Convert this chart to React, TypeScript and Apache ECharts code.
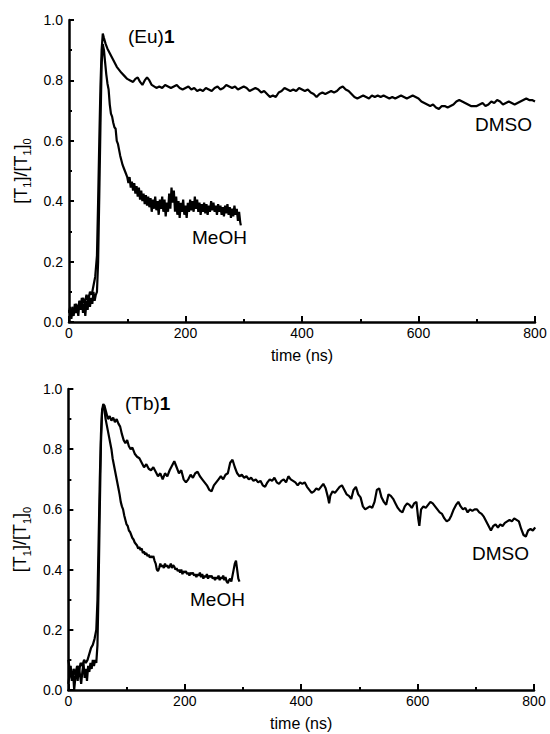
import React, { useEffect, useRef } from "react";
import * as echarts from "echarts";

// Time axis ticks (ns) and ratio axis ticks
const timeTicks = [0, 200, 400, 600, 800];
const ratioTicks = [0, 0.2, 0.4, 0.6, 0.8, 1.0];

// (Eu)1 in DMSO: [time ns, [T1]/[T1]0]
const euDmso: [number, number][] = [
  [0, 0.04], [3, 0.02], [6, 0.05], [9, 0.03], [12, 0.06], [15, 0.04], [18, 0.07], [21, 0.05], [24, 0.08], [27, 0.06],
  [30, 0.09], [33, 0.07], [36, 0.1], [39, 0.09], [42, 0.12], [45, 0.15], [48, 0.22], [50, 0.4], [52, 0.6], [54, 0.78],
  [56, 0.9], [58, 0.955], [60, 0.94], [63, 0.92], [66, 0.905], [70, 0.89], [74, 0.875], [78, 0.86], [82, 0.845], [86, 0.835],
  [90, 0.825], [95, 0.815], [100, 0.805], [105, 0.8], [110, 0.795], [114, 0.805], [118, 0.81], [122, 0.795], [126, 0.785], [130, 0.8],
  [134, 0.81], [138, 0.8], [142, 0.785], [146, 0.78], [150, 0.775], [155, 0.78], [160, 0.775], [165, 0.785], [170, 0.78], [175, 0.775],
  [180, 0.78], [185, 0.785], [190, 0.775], [195, 0.77], [200, 0.775], [205, 0.78], [210, 0.77], [215, 0.775], [220, 0.765], [225, 0.77],
  [230, 0.765], [235, 0.775], [240, 0.77], [245, 0.765], [250, 0.775], [255, 0.78], [260, 0.77], [265, 0.775], [270, 0.785], [275, 0.78],
  [280, 0.775], [285, 0.78], [290, 0.77], [295, 0.775], [300, 0.78], [305, 0.775], [310, 0.765], [315, 0.77], [320, 0.775], [325, 0.77],
  [330, 0.76], [335, 0.765], [340, 0.755], [345, 0.745], [350, 0.75], [355, 0.745], [360, 0.76], [365, 0.765], [370, 0.775], [375, 0.77],
  [380, 0.765], [385, 0.77], [390, 0.765], [395, 0.775], [400, 0.77], [405, 0.765], [410, 0.77], [415, 0.76], [420, 0.755], [425, 0.745],
  [430, 0.755], [435, 0.76], [440, 0.755], [445, 0.76], [450, 0.765], [455, 0.76], [460, 0.765], [465, 0.775], [470, 0.78], [475, 0.77],
  [480, 0.765], [485, 0.755], [490, 0.745], [495, 0.74], [500, 0.745], [505, 0.75], [510, 0.745], [515, 0.74], [520, 0.75], [525, 0.745],
  [530, 0.75], [535, 0.745], [540, 0.75], [545, 0.745], [550, 0.74], [555, 0.745], [560, 0.74], [565, 0.745], [570, 0.75], [575, 0.745],
  [580, 0.74], [585, 0.745], [590, 0.75], [595, 0.745], [600, 0.74], [605, 0.73], [610, 0.725], [615, 0.72], [620, 0.715], [625, 0.72],
  [630, 0.71], [635, 0.705], [640, 0.715], [645, 0.715], [650, 0.71], [655, 0.715], [660, 0.72], [665, 0.73], [670, 0.735], [675, 0.73],
  [680, 0.725], [685, 0.72], [690, 0.715], [695, 0.715], [700, 0.715], [705, 0.72], [710, 0.725], [715, 0.715], [720, 0.72], [725, 0.73],
  [730, 0.725], [735, 0.735], [740, 0.73], [745, 0.72], [750, 0.725], [755, 0.73], [760, 0.725], [765, 0.72], [770, 0.725], [775, 0.73],
  [780, 0.735], [785, 0.74], [790, 0.735], [795, 0.735], [800, 0.73],
];

// (Eu)1 in MeOH
const euMeoh: [number, number][] = [
  [0, 0.03], [2, 0.05], [4, 0.01], [6, 0.04], [8, 0.02], [10, 0.06], [12, 0.03], [14, 0.05], [16, 0.02], [18, 0.07],
  [20, 0.04], [22, 0.08], [24, 0.03], [26, 0.06], [28, 0.02], [30, 0.07], [32, 0.04], [34, 0.09], [36, 0.05], [38, 0.08],
  [40, 0.06], [42, 0.1], [44, 0.07], [46, 0.09], [48, 0.1], [50, 0.2], [52, 0.42], [54, 0.65], [56, 0.85], [58, 0.92],
  [60, 0.9], [62, 0.86], [64, 0.82], [66, 0.79], [68, 0.77], [70, 0.72], [72, 0.69], [74, 0.68], [76, 0.66], [78, 0.645],
  [80, 0.64], [82, 0.6], [84, 0.59], [86, 0.57], [88, 0.55], [90, 0.535], [92, 0.52], [94, 0.51], [96, 0.5], [98, 0.49],
  [100, 0.48], [102, 0.46], [104, 0.48], [106, 0.445], [108, 0.465], [110, 0.435], [112, 0.46], [114, 0.425], [116, 0.45], [118, 0.415],
  [120, 0.445], [122, 0.405], [124, 0.435], [126, 0.4], [128, 0.425], [130, 0.39], [132, 0.42], [134, 0.385], [136, 0.415], [138, 0.38],
  [140, 0.41], [142, 0.365], [144, 0.405], [146, 0.375], [148, 0.415], [150, 0.37], [152, 0.4], [154, 0.355], [156, 0.405], [158, 0.375],
  [160, 0.415], [162, 0.365], [164, 0.405], [166, 0.35], [168, 0.395], [170, 0.365], [172, 0.425], [174, 0.375], [176, 0.445], [178, 0.395],
  [180, 0.435], [182, 0.365], [184, 0.415], [186, 0.355], [188, 0.4], [190, 0.345], [192, 0.395], [194, 0.365], [196, 0.405], [198, 0.355],
  [200, 0.385], [202, 0.345], [204, 0.395], [206, 0.365], [208, 0.405], [210, 0.37], [212, 0.4], [214, 0.365], [216, 0.415], [218, 0.375],
  [220, 0.405], [222, 0.365], [224, 0.395], [226, 0.355], [228, 0.39], [230, 0.365], [232, 0.395], [234, 0.36], [236, 0.39], [238, 0.355],
  [240, 0.385], [242, 0.365], [244, 0.4], [246, 0.37], [248, 0.395], [250, 0.365], [252, 0.385], [254, 0.355], [256, 0.39], [258, 0.365],
  [260, 0.385], [262, 0.355], [264, 0.38], [266, 0.35], [268, 0.385], [270, 0.36], [272, 0.39], [274, 0.355], [276, 0.38], [278, 0.345],
  [280, 0.375], [282, 0.35], [284, 0.385], [286, 0.355], [288, 0.375], [290, 0.335], [292, 0.365], [294, 0.33], [295, 0.32],
];

// (Tb)1 in DMSO
const tbDmso: [number, number][] = [
  [0, 0.1], [3, 0.06], [6, 0.04], [9, 0.07], [12, 0.05], [15, 0.08], [18, 0.06], [21, 0.09], [24, 0.08], [27, 0.1],
  [30, 0.09], [33, 0.1], [36, 0.12], [39, 0.14], [42, 0.15], [45, 0.17], [48, 0.2], [50, 0.3], [52, 0.5], [54, 0.7],
  [56, 0.85], [58, 0.93], [60, 0.95], [62, 0.945], [64, 0.93], [66, 0.915], [68, 0.9], [71, 0.91], [74, 0.895], [77, 0.905],
  [80, 0.89], [83, 0.9], [86, 0.885], [89, 0.875], [92, 0.85], [95, 0.83], [98, 0.82], [101, 0.83], [104, 0.81], [107, 0.8],
  [110, 0.805], [114, 0.785], [118, 0.775], [122, 0.77], [126, 0.755], [130, 0.74], [134, 0.75], [138, 0.735], [142, 0.73], [146, 0.74],
  [150, 0.725], [154, 0.71], [158, 0.72], [162, 0.7], [166, 0.72], [170, 0.71], [174, 0.73], [178, 0.745], [182, 0.76], [186, 0.74],
  [190, 0.72], [194, 0.73], [198, 0.7], [202, 0.69], [206, 0.7], [210, 0.715], [214, 0.705], [218, 0.72], [222, 0.725], [226, 0.71],
  [230, 0.7], [234, 0.69], [238, 0.68], [242, 0.665], [246, 0.66], [250, 0.68], [254, 0.69], [258, 0.7], [262, 0.71], [266, 0.7],
  [270, 0.715], [274, 0.72], [278, 0.755], [282, 0.765], [286, 0.74], [290, 0.72], [294, 0.71], [298, 0.715], [302, 0.705], [306, 0.71],
  [310, 0.7], [314, 0.705], [318, 0.695], [322, 0.7], [326, 0.69], [330, 0.695], [334, 0.68], [338, 0.675], [342, 0.69], [346, 0.7],
  [350, 0.695], [354, 0.705], [358, 0.69], [362, 0.685], [366, 0.695], [370, 0.7], [374, 0.69], [378, 0.71], [382, 0.7], [386, 0.695],
  [390, 0.69], [394, 0.68], [398, 0.69], [402, 0.685], [406, 0.69], [410, 0.675], [414, 0.665], [418, 0.655], [422, 0.66], [426, 0.67],
  [430, 0.665], [434, 0.675], [438, 0.685], [442, 0.67], [446, 0.64], [448, 0.62], [450, 0.645], [454, 0.66], [458, 0.655], [462, 0.665],
  [466, 0.675], [470, 0.68], [474, 0.665], [478, 0.65], [482, 0.645], [486, 0.635], [490, 0.665], [494, 0.675], [498, 0.65], [502, 0.64],
  [506, 0.61], [510, 0.6], [514, 0.605], [518, 0.61], [522, 0.605], [526, 0.625], [530, 0.665], [534, 0.67], [538, 0.64], [542, 0.625],
  [546, 0.615], [550, 0.65], [554, 0.645], [558, 0.635], [562, 0.62], [566, 0.605], [570, 0.595], [574, 0.59], [578, 0.61], [582, 0.62],
  [586, 0.615], [590, 0.605], [594, 0.62], [598, 0.625], [601, 0.57], [603, 0.545], [606, 0.6], [610, 0.61], [614, 0.605], [618, 0.615],
  [622, 0.625], [626, 0.62], [630, 0.61], [634, 0.6], [638, 0.59], [642, 0.585], [646, 0.57], [650, 0.56], [654, 0.565], [658, 0.58],
  [662, 0.6], [666, 0.615], [670, 0.625], [674, 0.61], [678, 0.6], [682, 0.605], [686, 0.59], [690, 0.6], [694, 0.595], [698, 0.6],
  [702, 0.6], [706, 0.59], [710, 0.585], [714, 0.575], [718, 0.56], [722, 0.545], [726, 0.53], [730, 0.545], [734, 0.55], [738, 0.54],
  [742, 0.55], [746, 0.545], [750, 0.555], [754, 0.56], [758, 0.565], [762, 0.56], [766, 0.57], [770, 0.565], [774, 0.56], [778, 0.535],
  [782, 0.515], [786, 0.51], [790, 0.53], [794, 0.535], [798, 0.53], [802, 0.54],
];

// (Tb)1 in MeOH
const tbMeoh: [number, number][] = [
  [0, 0.02], [2, 0.05], [4, 0.08], [6, 0.03], [8, 0.06], [10, 0.0], [12, 0.04], [14, 0.07], [16, 0.03], [18, 0.08],
  [20, 0.05], [22, 0.02], [24, 0.06], [26, 0.09], [28, 0.04], [30, 0.07], [32, 0.03], [34, 0.08], [36, 0.06], [38, 0.09],
  [40, 0.07], [42, 0.1], [44, 0.08], [46, 0.1], [48, 0.09], [50, 0.15], [52, 0.35], [54, 0.6], [56, 0.82], [58, 0.93],
  [60, 0.94], [62, 0.93], [64, 0.9], [66, 0.88], [68, 0.86], [70, 0.84], [72, 0.82], [74, 0.8], [76, 0.77], [78, 0.75],
  [80, 0.73], [82, 0.71], [84, 0.69], [86, 0.67], [88, 0.65], [90, 0.625], [92, 0.61], [94, 0.6], [96, 0.58], [98, 0.565],
  [100, 0.55], [102, 0.545], [104, 0.53], [106, 0.525], [108, 0.515], [110, 0.505], [112, 0.5], [114, 0.49], [116, 0.485], [118, 0.48],
  [120, 0.47], [122, 0.475], [124, 0.465], [126, 0.47], [128, 0.455], [130, 0.46], [132, 0.45], [134, 0.455], [136, 0.445], [138, 0.45],
  [140, 0.44], [142, 0.445], [144, 0.44], [146, 0.445], [148, 0.43], [150, 0.42], [152, 0.4], [154, 0.395], [156, 0.405], [158, 0.42],
  [160, 0.41], [162, 0.415], [164, 0.405], [166, 0.42], [168, 0.41], [170, 0.415], [172, 0.405], [174, 0.41], [176, 0.42], [178, 0.405],
  [180, 0.415], [182, 0.41], [184, 0.4], [186, 0.405], [188, 0.395], [190, 0.4], [192, 0.39], [194, 0.4], [196, 0.385], [198, 0.395],
  [200, 0.39], [202, 0.395], [204, 0.385], [206, 0.39], [208, 0.38], [210, 0.39], [212, 0.385], [214, 0.39], [216, 0.38], [218, 0.385],
  [220, 0.375], [222, 0.385], [224, 0.38], [226, 0.39], [228, 0.375], [230, 0.385], [232, 0.37], [234, 0.38], [236, 0.375], [238, 0.385],
  [240, 0.37], [242, 0.38], [244, 0.375], [246, 0.38], [248, 0.37], [250, 0.375], [252, 0.365], [254, 0.375], [256, 0.37], [258, 0.38],
  [260, 0.365], [262, 0.375], [264, 0.37], [266, 0.38], [268, 0.365], [270, 0.375], [272, 0.36], [274, 0.355], [276, 0.365], [278, 0.37],
  [280, 0.36], [282, 0.38], [284, 0.4], [286, 0.42], [288, 0.43], [290, 0.4], [292, 0.37], [294, 0.36],
];

const FONT = "'Liberation Sans', Arial, Helvetica, sans-serif";

function xAxisCfg(gridIndex: number) {
  return {
    type: "value",
    gridIndex,
    min: timeTicks[0],
    max: timeTicks[timeTicks.length - 1],
    interval: 200,
    name: "time (ns)",
    nameLocation: "middle",
    nameGap: 25,
    nameTextStyle: { fontFamily: FONT, fontSize: 16, color: "#000" },
    axisLine: { show: true, onZero: false, lineStyle: { color: "#000", width: 2.5 } },
    axisTick: { show: true, inside: true, length: 6, lineStyle: { color: "#000", width: 2 } },
    minorTick: { show: true, splitNumber: 2, length: 3, lineStyle: { color: "#000", width: 2 } },
    splitLine: { show: false },
    minorSplitLine: { show: false },
    axisLabel: { fontFamily: FONT, fontSize: 14, color: "#000", margin: 4 },
  };
}

function yAxisCfg(gridIndex: number) {
  return {
    type: "value",
    gridIndex,
    min: ratioTicks[0],
    max: ratioTicks[ratioTicks.length - 1],
    interval: 0.2,
    name: "[T{s|1}]/[T{s|1}]{s|0}",
    nameLocation: "middle",
    nameGap: 35,
    nameTextStyle: {
      fontFamily: FONT,
      fontSize: 18,
      color: "#000",
      lineHeight: 24,
      rich: {
        s: { fontFamily: FONT, fontSize: 11, lineHeight: 11, verticalAlign: "bottom", color: "#000" },
      },
    },
    axisLine: { show: true, onZero: false, lineStyle: { color: "#000", width: 2.5 } },
    axisTick: { show: true, inside: true, length: 5, lineStyle: { color: "#000", width: 2 } },
    minorTick: { show: true, splitNumber: 2, length: 3, lineStyle: { color: "#000", width: 2 } },
    splitLine: { show: false },
    minorSplitLine: { show: false },
    axisLabel: {
      fontFamily: FONT,
      fontSize: 14,
      color: "#000",
      margin: 6,
      formatter: (v: number) => v.toFixed(1),
    },
  };
}

function lineSeries(data: [number, number][], idx: number, name: string) {
  return {
    type: "line",
    name,
    xAxisIndex: idx,
    yAxisIndex: idx,
    data,
    showSymbol: false,
    symbol: "none",
    lineStyle: { color: "#000", width: 2.2 },
    z: 3,
  };
}

function label(text: string, x: number, y: number) {
  return {
    type: "text",
    x,
    y,
    style: {
      text,
      fontFamily: FONT,
      fontSize: 19,
      fill: "#000",
      verticalAlign: "middle",
      rich: { b: { fontFamily: FONT, fontSize: 19, fontWeight: "bold", fill: "#000" } },
    },
  };
}

export default function App() {
  const ref = useRef<HTMLDivElement>(null);
  useEffect(() => {
    if (!ref.current) return;
    const chart = echarts.init(ref.current, undefined, { renderer: "svg" });
    chart.setOption({
      animation: false,
      backgroundColor: "#fff",
      grid: [
        { left: 69, top: 20, width: 466, height: 302 },
        { left: 66, top: 389, width: 468, height: 301 },
      ],
      xAxis: [xAxisCfg(0), xAxisCfg(1)],
      yAxis: [yAxisCfg(0), yAxisCfg(1)],
      series: [
        lineSeries(euDmso, 0, "DMSO"),
        lineSeries(euMeoh, 0, "MeOH"),
        lineSeries(tbDmso, 1, "DMSO"),
        lineSeries(tbMeoh, 1, "MeOH"),
      ],
      graphic: [
        label("(Eu){b|1}", 128, 36),
        label("DMSO", 475, 124),
        label("MeOH", 192, 237),
        label("(Tb){b|1}", 125, 403),
        label("DMSO", 472, 553),
        label("MeOH", 190, 599),
      ],
    });
    return () => chart.dispose();
  }, []);
  return (
    <div
      ref={ref}
      style={{ position: "fixed", left: 0, top: 0, width: 550, height: 734, background: "#fff" }}
    />
  );
}
